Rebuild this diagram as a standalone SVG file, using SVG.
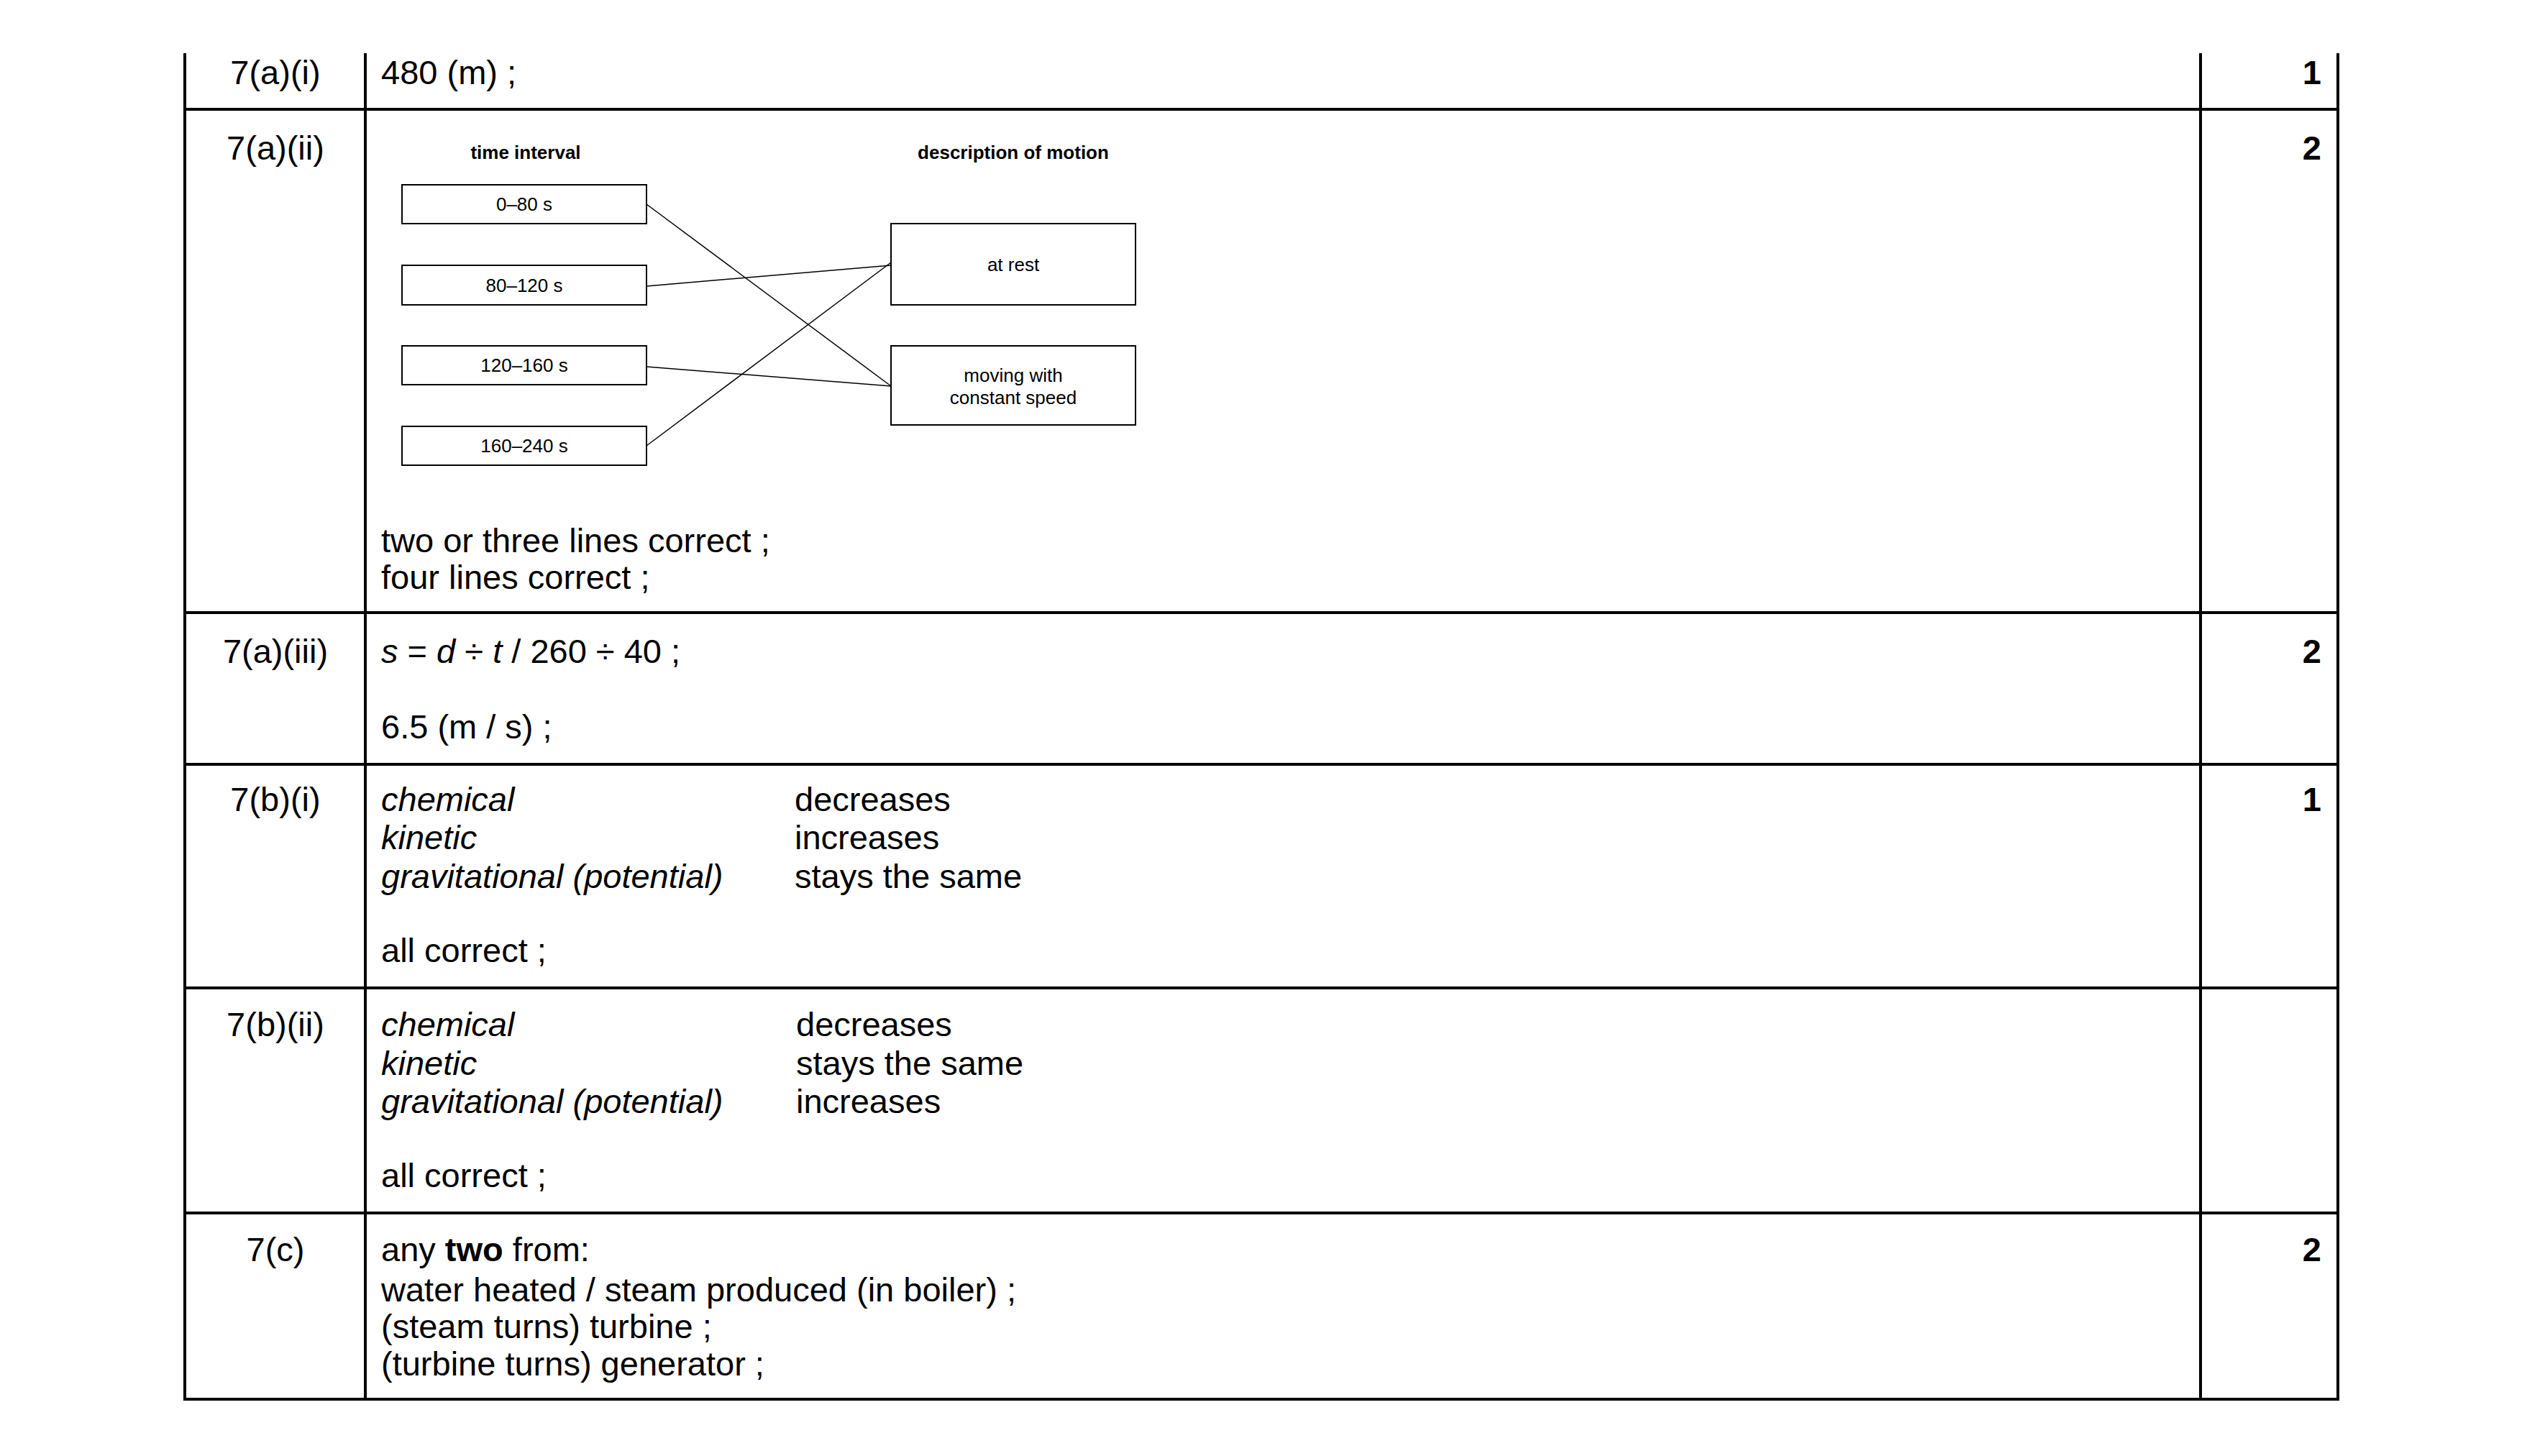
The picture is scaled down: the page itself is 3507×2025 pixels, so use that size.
<svg xmlns="http://www.w3.org/2000/svg" width="3507" height="2025" viewBox="0 0 3507 2025">
<style>
.t{font-family:"Liberation Sans",Arial,sans-serif;font-size:47px;fill:#000}
.c{text-anchor:middle}
.m{text-anchor:end;font-weight:bold}
.i{font-style:italic}
.s{font-family:"Liberation Sans",Arial,sans-serif;font-size:26px;fill:#000;text-anchor:middle}
.b{fill:#fff;stroke:#000;stroke-width:2}
.g line{stroke:#000;stroke-width:4}
.cn line{stroke:#000;stroke-width:1.5}
</style>
<rect width="3507" height="2025" fill="#fff"/>
<g id="grid" class="g">
<line x1="257" y1="74" x2="257" y2="1948"/>
<line x1="508" y1="74" x2="508" y2="1948"/>
<line x1="3060" y1="74" x2="3060" y2="1948"/>
<line x1="3251" y1="74" x2="3251" y2="1948"/>
<line x1="257" y1="152" x2="3251" y2="152"/>
<line x1="257" y1="852" x2="3251" y2="852"/>
<line x1="257" y1="1063" x2="3251" y2="1063"/>
<line x1="257" y1="1374" x2="3251" y2="1374"/>
<line x1="257" y1="1687" x2="3251" y2="1687"/>
<line x1="257" y1="1946" x2="3251" y2="1946"/>
</g>
<g id="labels">
<text class="t c" x="383" y="117">7(a)(i)</text>
<text class="t c" x="383" y="222">7(a)(ii)</text>
<text class="t c" x="383" y="922">7(a)(iii)</text>
<text class="t c" x="383" y="1128">7(b)(i)</text>
<text class="t c" x="383" y="1441">7(b)(ii)</text>
<text class="t c" x="383" y="1754">7(c)</text>
<text class="t m" x="3228" y="117">1</text>
<text class="t m" x="3228" y="222">2</text>
<text class="t m" x="3228" y="922">2</text>
<text class="t m" x="3228" y="1128">1</text>
<text class="t m" x="3228" y="1754">2</text>
</g>
<g id="answers">
<text class="t" x="530" y="117">480 (m) ;</text>
<text class="t" x="530" y="768">two or three lines correct ;</text>
<text class="t" x="530" y="819">four lines correct ;</text>
<text class="t" x="530" y="922"><tspan class="i">s</tspan> = <tspan class="i">d</tspan> ÷ <tspan class="i">t</tspan> / 260 ÷ 40 ;</text>
<text class="t" x="530" y="1027">6.5 (m / s) ;</text>
<text class="t i" x="530" y="1128">chemical</text>
<text class="t i" x="530" y="1181">kinetic</text>
<text class="t i" x="530" y="1235">gravitational (potential)</text>
<text class="t" x="1105" y="1128">decreases</text>
<text class="t" x="1105" y="1181">increases</text>
<text class="t" x="1105" y="1235">stays the same</text>
<text class="t" x="530" y="1338">all correct ;</text>
<text class="t i" x="530" y="1441">chemical</text>
<text class="t i" x="530" y="1495">kinetic</text>
<text class="t i" x="530" y="1548">gravitational (potential)</text>
<text class="t" x="1107" y="1441">decreases</text>
<text class="t" x="1107" y="1495">stays the same</text>
<text class="t" x="1107" y="1548">increases</text>
<text class="t" x="530" y="1651">all correct ;</text>
<text class="t" x="530" y="1754">any <tspan font-weight="bold">two</tspan> from:</text>
<text class="t" x="530" y="1810">water heated / steam produced (in boiler) ;</text>
<text class="t" x="530" y="1861">(steam turns) turbine ;</text>
<text class="t" x="530" y="1913">(turbine turns) generator ;</text>
</g>
<g id="headings">
<text class="s" x="731" y="221" font-weight="bold">time interval</text>
<text class="s" x="1409" y="221" font-weight="bold">description of motion</text>
</g>
<g id="n1"><rect class="b" x="559" y="257" width="340" height="54"/><text class="s" x="729" y="293">0–80 s</text></g>
<g id="n2"><rect class="b" x="559" y="369" width="340" height="55"/><text class="s" x="729" y="406">80–120 s</text></g>
<g id="n3"><rect class="b" x="559" y="481" width="340" height="54"/><text class="s" x="729" y="517">120–160 s</text></g>
<g id="n4"><rect class="b" x="559" y="593" width="340" height="54"/><text class="s" x="729" y="629">160–240 s</text></g>
<g id="rest"><rect class="b" x="1239" y="311" width="340" height="113"/><text class="s" x="1409" y="377">at rest</text></g>
<g id="moving"><rect class="b" x="1239" y="481" width="340" height="110"/><text class="s" x="1409" y="531">moving with</text><text class="s" x="1409" y="562">constant speed</text></g>
<g id="connectors" class="cn">
<line x1="899" y1="284" x2="1239" y2="537"/>
<line x1="899" y1="398" x2="1239" y2="369"/>
<line x1="899" y1="510" x2="1239" y2="537"/>
<line x1="899" y1="620" x2="1239" y2="365"/>
</g>
</svg>
